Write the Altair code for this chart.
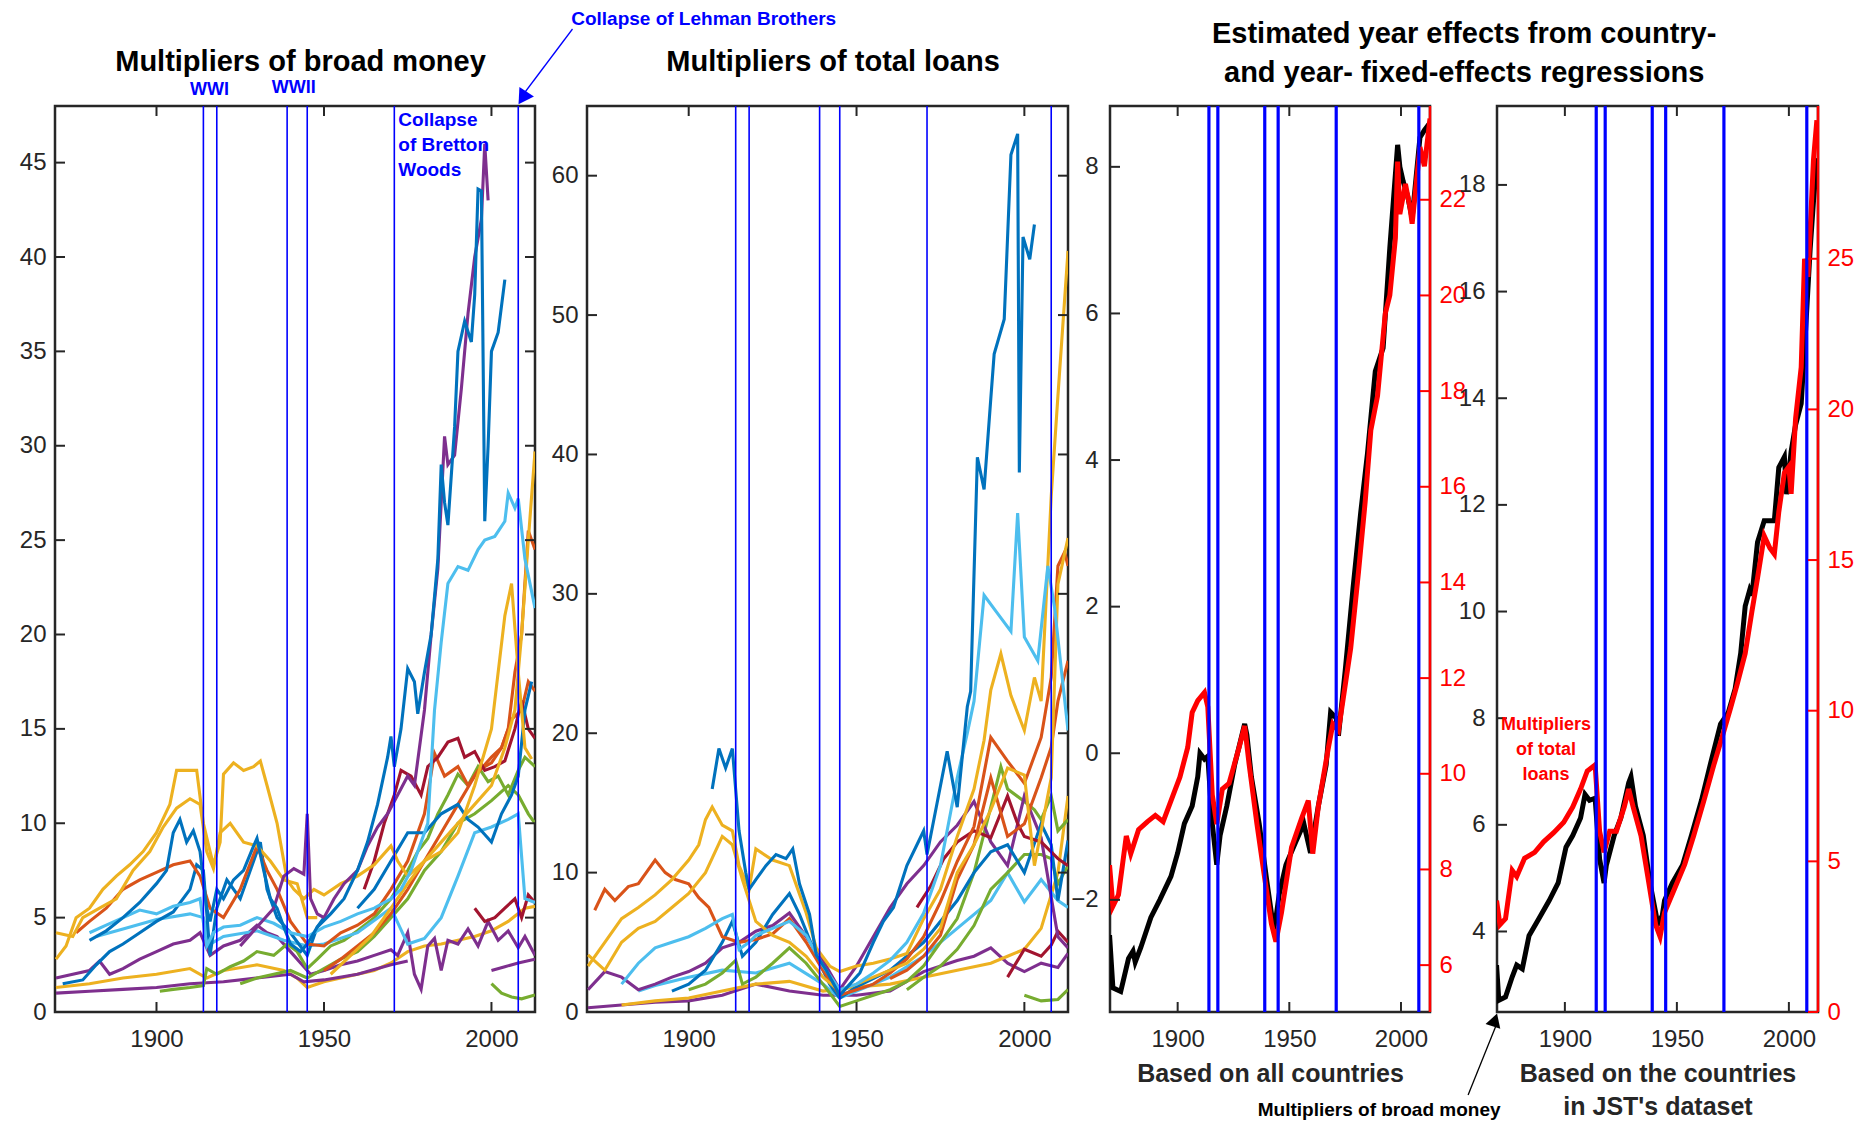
import altair as alt
import pandas as pd

# ---------------------------------------------------------------- data
event_years = [1914, 1918, 1939, 1945, 1971, 2008]
year_ticks = [1900, 1950, 2000]

# MATLAB default colour order
c_blue, c_orange, c_yellow, c_purple = "#0072BD", "#D95319", "#EDB120", "#7E2F8E"
c_green, c_cyan, c_darkred = "#77AC30", "#4DBEEE", "#A2142F"

# Multipliers of broad money, one list of (year, value) per country
bm_blue_a = [(1880, 3.8), (1885, 4.3), (1890, 5.0), (1895, 5.8), (1900, 6.8), (1903, 7.5), (1905, 9.5), (1907, 10.2),
             (1909, 9.0), (1911, 9.6), (1913, 8.5), (1915, 5.5), (1916, 4.8), (1918, 6.5), (1920, 6.0), (1923, 7.0),
             (1926, 7.5), (1929, 8.8), (1930, 9.2), (1932, 7.5), (1934, 6.0), (1936, 5.5), (1938, 4.5), (1940, 3.6),
             (1943, 3.2), (1945, 3.6), (1948, 4.5), (1952, 5.2), (1956, 6.0), (1960, 7.5), (1963, 9.0), (1966, 11.0),
             (1969, 13.5), (1970, 14.6), (1971, 13.0), (1973, 15.0), (1975, 18.2), (1977, 17.5), (1978, 15.8),
             (1980, 18.0), (1982, 20.0), (1984, 24.0), (1985, 29.0), (1986, 27.0), (1987, 25.8), (1989, 31.0),
             (1990, 35.0), (1992, 36.6), (1994, 35.5), (1995, 38.0), (1996, 43.6), (1997, 43.5), (1998, 26.0),
             (1999, 30.0), (2000, 35.0), (2002, 36.0), (2004, 38.8)]
bm_purple_a = [(1925, 3.5), (1930, 4.5), (1935, 5.5), (1938, 7.2), (1941, 7.6), (1944, 7.3), (1945, 10.5), (1946, 6.0),
               (1948, 5.2), (1950, 5.0), (1953, 6.0), (1956, 6.8), (1960, 7.5), (1963, 8.8), (1966, 9.8), (1969, 10.5),
               (1972, 11.5), (1975, 12.5), (1977, 12.0), (1980, 16.0), (1982, 20.0), (1984, 23.5), (1986, 30.5),
               (1987, 29.0), (1989, 29.5), (1991, 33.0), (1993, 37.0), (1995, 40.0), (1997, 42.0), (1998, 46.0),
               (1999, 43.0)]
bm_cyan_a = [(1880, 4.2), (1885, 4.6), (1890, 5.0), (1895, 5.4), (1900, 5.2), (1905, 5.6), (1910, 5.8), (1913, 6.0),
             (1915, 3.5), (1917, 4.2), (1920, 4.5), (1925, 4.6), (1930, 5.0), (1935, 4.7), (1940, 4.2), (1945, 4.0),
             (1950, 4.5), (1955, 4.8), (1960, 5.2), (1965, 5.5), (1970, 6.0), (1973, 6.5), (1976, 7.5), (1979, 9.0),
             (1981, 10.0), (1983, 16.0), (1985, 19.6), (1987, 22.7), (1990, 23.6), (1993, 23.4), (1996, 24.5),
             (1998, 25.0), (2001, 25.2), (2004, 26.0), (2005, 27.5), (2007, 26.7), (2008, 27.2), (2010, 24.0),
             (2013, 21.4)]
bm_cyan_b = [(1882, 4.0), (1890, 4.4), (1900, 4.9), (1910, 5.2), (1914, 5.0), (1916, 3.6), (1920, 4.0), (1930, 4.3),
             (1938, 3.8), (1945, 3.5), (1950, 3.6), (1960, 4.2), (1970, 5.5), (1975, 3.6), (1980, 3.9), (1985, 5.0),
             (1990, 7.2), (1995, 9.5), (2000, 9.8), (2005, 10.2), (2008, 10.5), (2010, 6.0), (2013, 5.8)]
bm_yellow_a = [(1870, 2.8), (1873, 3.5), (1876, 5.0), (1880, 5.5), (1884, 6.5), (1888, 7.2), (1892, 7.8), (1896, 8.5),
               (1900, 9.5), (1904, 11.0), (1906, 12.8), (1912, 12.8), (1914, 10.0), (1916, 8.5), (1917, 7.8),
               (1919, 9.0), (1920, 12.6), (1923, 13.2), (1926, 12.8), (1929, 13.0), (1931, 13.3), (1933, 12.0),
               (1936, 10.0), (1939, 7.0), (1941, 6.5), (1944, 6.0), (1947, 6.5), (1950, 6.2), (1955, 6.8), (1960, 7.2),
               (1965, 7.8), (1970, 8.8), (1972, 8.0), (1975, 7.2), (1980, 8.0), (1985, 8.5), (1990, 9.5), (1995, 12.0),
               (2000, 15.0), (2004, 21.0), (2006, 22.7), (2008, 18.0), (2010, 14.0), (2012, 13.4)]
bm_yellow_b = [(1870, 4.2), (1875, 4.0), (1878, 5.0), (1883, 5.5), (1888, 6.0), (1893, 7.5), (1898, 8.5), (1902, 9.8),
               (1906, 10.8), (1910, 11.3), (1913, 11.0), (1915, 8.5), (1917, 7.6), (1919, 9.5), (1922, 10.0),
               (1926, 9.0), (1930, 8.8), (1934, 8.0), (1938, 7.0), (1942, 6.8), (1945, 5.0), (1948, 5.0)]
bm_yellow_c = [(1870, 1.3), (1880, 1.5), (1890, 1.8), (1900, 2.0), (1910, 2.3), (1915, 1.8), (1920, 2.2), (1930, 2.5),
               (1938, 2.2), (1942, 1.8), (1945, 1.3), (1950, 1.6), (1955, 1.8), (1960, 2.0), (1965, 2.2), (1970, 2.6),
               (1975, 3.2), (1980, 3.5), (1985, 3.6), (1990, 3.8), (1995, 4.0), (2000, 4.3), (2005, 4.8), (2010, 5.5),
               (2013, 5.6)]
bm_yellow_d = [(1952, 2.0), (1958, 3.0), (1964, 4.0), (1970, 5.5), (1975, 6.8), (1980, 8.0), (1985, 9.0), (1990, 10.0),
               (1995, 11.0), (2000, 12.0), (2004, 14.0), (2007, 16.0), (2009, 20.0), (2011, 25.0), (2013, 29.7)]
bm_orange_a = [(1876, 4.2), (1880, 4.8), (1885, 5.5), (1890, 6.5), (1895, 7.0), (1900, 7.4), (1905, 7.8), (1910, 8.0),
               (1913, 7.2), (1916, 5.5), (1920, 5.0), (1925, 6.5), (1930, 8.8), (1933, 7.5), (1936, 6.5), (1940, 4.8),
               (1945, 3.6), (1950, 3.5), (1955, 4.2), (1960, 4.6), (1965, 5.2), (1970, 6.5), (1975, 8.0), (1980, 10.5),
               (1983, 13.7), (1986, 12.5), (1990, 13.0), (1993, 12.0), (1996, 12.8), (2000, 13.2), (2003, 14.0),
               (2006, 15.5), (2009, 16.0), (2011, 17.5), (2013, 17.0)]
bm_orange_b = [(1950, 2.2), (1955, 2.8), (1960, 3.5), (1965, 4.2), (1970, 5.2), (1975, 6.5), (1980, 8.0), (1985, 9.5),
               (1990, 11.0), (1995, 12.5), (2000, 13.5), (2003, 14.0), (2005, 15.0), (2007, 18.0), (2009, 20.0),
               (2011, 25.5), (2013, 24.5)]
bm_darkred_a = [(1962, 6.5), (1965, 8.0), (1968, 10.0), (1971, 11.5), (1973, 12.8), (1976, 12.5), (1979, 11.5),
                (1981, 13.0), (1984, 13.5), (1987, 14.3), (1990, 14.5), (1992, 13.5), (1995, 13.8), (1998, 12.8),
                (2001, 13.0), (2004, 13.3), (2007, 15.0), (2009, 16.5), (2011, 15.0), (2013, 14.5)]
bm_darkred_b = [(1995, 5.5), (1998, 4.8), (2001, 5.0), (2004, 5.5), (2007, 6.0), (2009, 5.0), (2011, 6.2), (2013, 5.8)]
bm_green_a = [(1901, 1.1), (1905, 1.2), (1910, 1.3), (1914, 1.4), (1915, 2.3), (1918, 2.0), (1922, 2.4), (1926, 2.7),
              (1930, 3.2), (1935, 3.0), (1939, 3.6), (1942, 3.2), (1945, 2.3), (1948, 2.8), (1952, 3.5), (1956, 3.8),
              (1960, 4.3), (1965, 5.0), (1970, 6.0), (1972, 6.6), (1975, 7.5), (1978, 8.5), (1981, 9.2), (1984, 10.5),
              (1987, 11.5), (1990, 12.6), (1993, 12.0), (1996, 13.0), (1999, 12.2), (2002, 12.5), (2005, 11.5),
              (2008, 12.8), (2010, 13.5), (2013, 13.0)]
bm_green_b = [(1925, 1.5), (1930, 1.8), (1935, 2.0), (1940, 2.2), (1945, 1.8), (1950, 2.3), (1955, 2.8), (1960, 3.2),
              (1965, 4.0), (1970, 5.0), (1975, 6.0), (1980, 7.5), (1985, 8.5), (1990, 10.0), (1995, 10.5), (2000, 11.2),
              (2005, 12.0), (2008, 11.5), (2011, 10.5), (2013, 10.0)]
bm_green_c = [(2000, 1.5), (2003, 1.0), (2006, 0.8), (2009, 0.7), (2013, 0.9)]
bm_purple_b = [(1870, 1.8), (1875, 2.0), (1880, 2.2), (1883, 2.7), (1886, 2.0), (1890, 2.3), (1895, 2.8), (1900, 3.2),
               (1905, 3.6), (1910, 3.8), (1913, 4.2), (1916, 3.0), (1920, 3.5), (1925, 3.8), (1930, 4.6), (1933, 4.2),
               (1936, 4.0), (1940, 3.2), (1943, 2.6), (1946, 2.0), (1950, 2.2), (1955, 2.5), (1960, 2.7), (1965, 3.0),
               (1970, 3.3), (1972, 3.0), (1975, 4.2), (1977, 2.0), (1979, 1.2), (1981, 3.5), (1983, 3.9), (1985, 2.2),
               (1987, 3.8), (1990, 3.6), (1993, 4.4), (1996, 3.5), (1999, 4.8), (2002, 3.8), (2005, 4.3), (2008, 3.4),
               (2010, 4.0), (2013, 3.0)]
bm_purple_c = [(1870, 1.0), (1880, 1.1), (1890, 1.2), (1900, 1.3), (1910, 1.5), (1920, 1.6), (1930, 1.8), (1940, 2.0),
               (1944, 1.6), (1950, 1.7), (1960, 2.0), (1970, 2.5), (1975, 2.7)]
bm_purple_d = [(2000, 2.2), (2004, 2.4), (2008, 2.6), (2013, 2.8)]
bm_blue_b = [(1960, 5.5), (1965, 6.5), (1970, 8.0), (1975, 9.5), (1980, 9.5), (1985, 10.5), (1990, 11.0), (1993, 10.2),
             (1996, 9.8), (2000, 9.0), (2003, 10.5), (2006, 11.5), (2008, 12.5), (2010, 16.0), (2012, 17.5)]
bm_blue_c = [(1872, 1.5), (1878, 1.7), (1882, 2.5), (1886, 3.2), (1890, 3.6), (1895, 4.2), (1900, 4.8), (1905, 5.3),
             (1910, 6.5), (1912, 7.8), (1914, 7.5), (1916, 3.0), (1918, 5.5), (1921, 7.0), (1925, 6.0), (1929, 8.0),
             (1931, 9.0), (1933, 6.5), (1936, 5.0), (1940, 4.2), (1945, 3.0), (1948, 4.5), (1950, 5.0)]

broad_money = [
    (c_yellow, bm_yellow_c), (c_purple, bm_purple_c), (c_green, bm_green_c), (c_purple, bm_purple_d),
    (c_purple, bm_purple_b), (c_green, bm_green_b), (c_green, bm_green_a), (c_darkred, bm_darkred_b),
    (c_cyan, bm_cyan_b), (c_blue, bm_blue_c), (c_orange, bm_orange_a), (c_orange, bm_orange_b),
    (c_darkred, bm_darkred_a), (c_blue, bm_blue_b), (c_yellow, bm_yellow_b), (c_yellow, bm_yellow_d),
    (c_yellow, bm_yellow_a), (c_cyan, bm_cyan_a), (c_purple, bm_purple_a), (c_blue, bm_blue_a),
]

# Multipliers of total loans
tl_blue_a = [(1907, 16.0), (1909, 18.9), (1911, 17.5), (1913, 18.9), (1915, 13.0), (1917, 10.0), (1918, 8.8),
             (1920, 9.5), (1923, 10.5), (1926, 11.3), (1929, 11.0), (1931, 11.7), (1933, 9.2), (1936, 7.0), (1938, 4.1),
             (1941, 3.0), (1945, 1.2), (1948, 2.0), (1951, 2.8), (1955, 5.0), (1958, 6.5), (1961, 7.5), (1965, 10.5),
             (1968, 12.0), (1970, 13.0), (1971, 11.3), (1974, 15.0), (1977, 18.7), (1980, 14.7), (1983, 21.9),
             (1984, 23.0), (1986, 39.8), (1988, 37.5), (1990, 44.0), (1991, 47.2), (1994, 49.7), (1996, 61.5),
             (1998, 63.0), (1998.5, 38.7), (1999.6, 55.6), (2001.6, 54.0), (2003, 56.5)]
tl_cyan_a = [(1880, 2.0), (1885, 3.5), (1890, 4.6), (1895, 5.0), (1900, 5.4), (1905, 6.0), (1910, 6.7), (1913, 7.0),
             (1915, 4.5), (1918, 5.0), (1920, 5.5), (1925, 6.0), (1930, 6.5), (1935, 5.5), (1940, 3.3), (1945, 1.6),
             (1950, 2.0), (1955, 2.8), (1960, 3.7), (1965, 5.0), (1970, 7.1), (1975, 10.5), (1980, 16.8), (1983, 20.0),
             (1985, 22.3), (1988, 29.9), (1992, 28.6), (1996, 27.3), (1998, 35.8), (2000, 26.9), (2004, 25.2),
             (2007, 32.0), (2009, 29.0), (2013, 20.2)]
tl_cyan_b = [(1885, 1.5), (1890, 1.9), (1900, 2.5), (1910, 3.0), (1920, 2.8), (1930, 3.5), (1940, 2.0), (1945, 1.0),
             (1950, 1.5), (1960, 2.5), (1970, 4.0), (1980, 6.0), (1990, 8.0), (1995, 10.0), (2000, 7.9), (2005, 9.5),
             (2010, 8.0), (2013, 7.5)]
tl_yellow_a = [(1870, 3.3), (1875, 5.0), (1880, 6.7), (1885, 7.5), (1890, 8.4), (1895, 9.5), (1900, 10.9), (1903, 12.0),
               (1905, 13.8), (1907, 14.7), (1910, 13.4), (1913, 13.0), (1915, 10.5), (1918, 8.8), (1920, 11.7),
               (1925, 10.9), (1930, 10.5), (1935, 7.1), (1938, 4.6), (1942, 3.3), (1945, 2.9), (1950, 3.3), (1955, 3.5),
               (1960, 3.8), (1965, 4.2), (1970, 6.7), (1975, 8.8), (1980, 12.6), (1985, 16.0), (1988, 19.5),
               (1990, 23.1), (1993, 25.7), (1996, 22.7), (2000, 20.2), (2003, 24.0), (2005, 22.3), (2008, 37.0),
               (2010, 44.2), (2013, 54.6)]
tl_yellow_b = [(1870, 4.1), (1875, 3.0), (1880, 5.0), (1885, 6.0), (1890, 6.5), (1895, 7.5), (1900, 8.5), (1905, 10.0),
               (1910, 12.6), (1913, 12.0), (1916, 9.5), (1918, 8.0), (1920, 6.5), (1925, 5.5), (1930, 5.0), (1935, 4.0),
               (1940, 2.5), (1945, 1.5), (1950, 2.0), (1955, 2.5), (1960, 3.0), (1965, 3.5), (1970, 4.5), (1975, 6.0),
               (1980, 10.0), (1985, 12.0), (1990, 14.5), (1995, 17.5), (2000, 17.0), (2003, 10.5), (2005, 13.0),
               (2008, 16.8), (2010, 30.7), (2013, 34.0)]
tl_yellow_c = [(1880, 0.5), (1890, 0.8), (1900, 1.0), (1910, 1.5), (1920, 2.0), (1930, 2.2), (1940, 1.5), (1950, 1.8),
               (1960, 2.0), (1970, 2.5), (1980, 3.0), (1990, 3.5), (1995, 4.0), (2000, 4.5), (2005, 6.0), (2010, 10.0),
               (2013, 15.5)]
tl_orange_a = [(1872, 7.3), (1875, 8.8), (1878, 8.0), (1882, 9.0), (1885, 9.2), (1890, 10.9), (1893, 10.0), (1896, 9.5),
               (1900, 9.2), (1903, 8.2), (1906, 7.5), (1910, 5.4), (1915, 5.0), (1920, 5.2), (1925, 5.6), (1930, 6.7),
               (1935, 5.0), (1940, 3.0), (1945, 1.2), (1950, 1.6), (1955, 2.0), (1960, 2.8), (1965, 3.8), (1970, 5.4),
               (1975, 7.9), (1980, 10.8), (1985, 13.3), (1990, 19.7), (1995, 18.0), (2000, 16.4), (2005, 19.7),
               (2008, 24.0), (2010, 32.0), (2012, 33.0), (2013, 32.0)]
tl_orange_b = [(1960, 2.4), (1965, 3.0), (1970, 4.0), (1975, 5.5), (1980, 9.5), (1985, 12.0), (1990, 16.8), (1995, 12.6),
               (2000, 13.5), (2005, 16.8), (2008, 19.0), (2010, 22.3), (2013, 25.2)]
tl_darkred_a = [(1968, 7.5), (1972, 9.0), (1976, 11.0), (1980, 12.2), (1985, 13.0), (1990, 12.5), (1995, 15.5),
                (1998, 13.5), (2000, 12.6), (2005, 12.2), (2010, 11.0), (2013, 10.5)]
tl_darkred_b = [(1995, 2.5), (2000, 4.5), (2005, 4.0), (2008, 4.8), (2010, 5.8), (2013, 5.0)]
tl_green_a = [(1900, 1.6), (1905, 2.0), (1910, 2.8), (1914, 3.7), (1916, 2.0), (1920, 2.5), (1925, 3.5), (1930, 4.6),
              (1935, 3.5), (1940, 2.0), (1945, 0.4), (1950, 0.8), (1955, 1.2), (1960, 1.6), (1965, 2.2), (1970, 3.3),
              (1975, 5.0), (1980, 6.7), (1985, 10.0), (1990, 14.7), (1993, 17.6), (1995, 16.0), (2000, 15.1),
              (2003, 14.5), (2005, 13.8), (2008, 15.5), (2010, 13.0), (2013, 13.8)]
tl_green_b = [(1965, 1.6), (1970, 2.5), (1975, 3.3), (1980, 4.5), (1985, 6.2), (1990, 8.8), (1995, 10.0), (2000, 11.3),
              (2005, 11.3), (2008, 11.0), (2010, 9.2), (2013, 10.5)]
tl_green_c = [(2000, 1.2), (2005, 0.8), (2010, 0.9), (2013, 1.6)]
tl_purple_a = [(1870, 1.6), (1875, 2.9), (1880, 2.5), (1885, 1.6), (1890, 2.0), (1895, 2.5), (1900, 2.9), (1905, 3.5),
               (1910, 4.6), (1915, 5.0), (1920, 5.8), (1925, 6.2), (1930, 7.1), (1935, 5.4), (1940, 3.7), (1945, 1.6),
               (1950, 3.3), (1955, 5.4), (1960, 7.5), (1965, 9.2), (1970, 10.5), (1975, 12.2), (1980, 13.4),
               (1985, 15.1), (1990, 12.2), (1995, 10.5), (2000, 15.5), (2005, 12.5), (2010, 5.4), (2013, 4.6)]
tl_purple_b = [(1870, 0.3), (1880, 0.5), (1890, 0.7), (1900, 0.8), (1910, 1.2), (1920, 2.0), (1930, 1.5), (1940, 1.2),
               (1950, 1.2), (1960, 1.5), (1970, 2.9), (1980, 3.7), (1985, 4.0), (1990, 4.6), (1995, 3.5), (2000, 2.9),
               (2005, 3.5), (2010, 3.2), (2013, 4.2)]
tl_blue_b = [(1895, 1.5), (1900, 2.0), (1905, 3.0), (1910, 5.0), (1913, 6.5), (1916, 4.0), (1920, 5.0), (1925, 7.0),
             (1930, 8.5), (1933, 7.0), (1938, 4.0), (1942, 2.0), (1945, 1.0), (1950, 1.8), (1960, 3.0), (1970, 5.0),
             (1980, 8.0), (1985, 10.0), (1990, 11.5), (1995, 12.0), (2000, 10.0), (2005, 13.5), (2008, 12.0),
             (2010, 8.0), (2013, 12.3)]

total_loans = [
    (c_purple, tl_purple_b), (c_yellow, tl_yellow_c), (c_green, tl_green_c), (c_darkred, tl_darkred_b),
    (c_cyan, tl_cyan_b), (c_green, tl_green_b), (c_green, tl_green_a), (c_purple, tl_purple_a),
    (c_blue, tl_blue_b), (c_darkred, tl_darkred_a), (c_orange, tl_orange_b), (c_orange, tl_orange_a),
    (c_yellow, tl_yellow_b), (c_yellow, tl_yellow_a), (c_cyan, tl_cyan_a), (c_blue, tl_blue_a),
]

# Estimated year effects, all countries: broad money (left axis) and total loans (right axis)
ye_all_money = [(1869.5, -2.48), (1871, -3.2), (1874.5, -3.25), (1878, -2.8), (1880, -2.7), (1881, -2.85),
                (1883.5, -2.65), (1888, -2.24), (1892, -2.0), (1897, -1.68), (1900, -1.36), (1903, -0.96),
                (1906.5, -0.72), (1909, -0.32), (1910, 0.0), (1912, -0.08), (1913.5, -0.04), (1915.5, -0.96),
                (1917.5, -1.52), (1919, -1.12), (1922, -0.72), (1925.5, -0.16), (1930, 0.4), (1931, 0.25),
                (1933, -0.32), (1936.5, -0.96), (1940, -1.76), (1943, -2.4), (1944, -2.25), (1945.5, -1.92),
                (1948.5, -1.52), (1953, -1.2), (1956.5, -0.96), (1959.5, -1.36), (1963, -0.72), (1966.5, -0.16),
                (1968.5, 0.56), (1971, 0.48), (1972, 0.24), (1975, 1.12), (1978.5, 2.24), (1982, 3.29),
                (1985, 4.09), (1988.5, 5.21), (1992, 5.53), (1995, 6.89), (1998.5, 8.3), (1999.5, 8.0),
                (2001, 7.8), (2003, 7.6), (2005, 7.3), (2008.5, 8.4), (2010.5, 8.5), (2013, 8.6)]
ye_all_loans = [(1869.5, 8.09), (1871, 7.23), (1873.5, 7.47), (1877, 8.7), (1879, 8.33), (1882.5, 8.83), (1886.5, 9.0),
                (1890, 9.13), (1893.5, 9.0), (1898, 9.56), (1901, 9.93), (1904.5, 10.55), (1906.5, 11.28),
                (1909, 11.53), (1912, 11.7), (1913.5, 11.4), (1915.5, 9.56), (1917.5, 8.95), (1920, 9.68),
                (1923, 9.8), (1927.5, 10.55), (1930, 11.0), (1932, 10.2), (1935.5, 8.95), (1938.5, 7.97),
                (1942, 6.86), (1944, 6.49), (1946.5, 7.1), (1951, 8.46), (1955.5, 9.07), (1958.5, 9.44),
                (1960.5, 8.33), (1963, 9.32), (1967.5, 10.55), (1969.5, 11.04), (1972, 10.9), (1974, 11.53),
                (1977.5, 12.63), (1981, 14.23), (1984, 15.7), (1986.5, 17.18), (1989.5, 17.9), (1993, 19.63),
                (1995, 20.0), (1997.5, 21.2), (1998.5, 22.8), (1999.5, 21.7), (2002, 22.33), (2004, 21.85),
                (2005, 21.5), (2008.5, 23.1), (2010.5, 22.7), (2013, 23.7)]

# Estimated year effects, countries in JST's dataset
ye_jst_money = [(1869.5, 3.37), (1870.5, 2.71), (1873.5, 2.77), (1876.5, 3.15), (1878.5, 3.37), (1881, 3.3),
                (1884, 3.92), (1888.5, 4.25), (1893, 4.58), (1897, 4.91), (1900.5, 5.58), (1903.5, 5.8), (1907, 6.13),
                (1909, 6.57), (1911, 6.46), (1913.5, 6.5), (1915.5, 5.36), (1917.5, 4.91), (1918.5, 5.24), (1922, 5.8),
                (1925, 6.13), (1928.5, 6.79), (1929.5, 6.9), (1931.5, 6.35), (1935, 5.8), (1938, 4.91),
                (1941.5, 4.14), (1943.5, 4.3), (1944.5, 4.58), (1948, 4.91), (1952.5, 5.24), (1956.5, 5.8),
                (1961, 6.46), (1965.5, 7.23), (1969.5, 7.89), (1973, 8.11), (1976, 8.55), (1978.5, 9.22),
                (1980.5, 10.1), (1982.5, 10.4), (1983.5, 10.3), (1986, 11.3), (1989, 11.7), (1991.5, 11.7),
                (1993.5, 11.7), (1995.5, 12.7), (1998, 12.9), (1999, 12.2), (2001, 13.0), (2003, 13.5), (2005.5, 13.9),
                (2007.5, 15.3), (2009.5, 16.8), (2011, 17.7), (2012.5, 18.5)]
ye_jst_loans = [(1869.5, 3.7), (1871, 2.9), (1873.5, 3.1), (1876.5, 4.7), (1878.5, 4.5), (1882, 5.1), (1886.5, 5.3),
                (1890.5, 5.65), (1895, 5.95), (1899.5, 6.3), (1903.5, 6.8), (1907, 7.4), (1910, 8.0), (1913.5, 8.2),
                (1915.5, 6.0), (1917.5, 5.3), (1920, 6.0), (1923, 6.0), (1926.5, 6.8), (1928.5, 7.4), (1930.5, 6.8),
                (1934, 5.85), (1937, 4.5), (1940.5, 2.9), (1942.5, 2.5), (1944.5, 3.3), (1949, 4.1), (1953.5, 4.9),
                (1957.5, 5.85), (1962, 7.0), (1966.5, 8.2), (1970.5, 9.2), (1974, 10.1), (1977, 10.9), (1980.5, 11.9),
                (1983.5, 13.3), (1986, 14.4), (1989, 15.8), (1991.5, 15.4), (1993.5, 15.2), (1995.5, 16.6),
                (1998, 17.9), (2000, 18.1), (2001, 17.2), (2003, 19.7), (2005.5, 21.4), (2007, 25.0), (2008.5, 24.4),
                (2011, 28.3), (2012.5, 29.6)]

# ---------------------------------------------------------------- layout / style
H = 906
W1, W2, W3, W4 = 480, 481, 320, 321
X_DOMAIN = [1869.7, 2013]
FRAME = "#262626"
EVENT_BLUE = "#0000FF"
RED = "#FF0000"
FONT = "Liberation Sans"
TICK = 10

xscale = alt.Scale(domain=X_DOMAIN, nice=False, zero=False)


def series_frame(groups):
    rows = []
    for i, (colour, pts) in enumerate(groups):
        for yr, v in pts:
            rows.append({"sid": f"s{i:02d}", "colour": colour, "year": yr, "value": v})
    return pd.DataFrame(rows)


def points_frame(pts):
    return pd.DataFrame(pts, columns=["year", "value"])


def x_enc(title=None):
    kw = dict(values=year_ticks, format="d", ticks=False, domain=False, grid=False,
              labelFont=FONT, labelFontSize=24, labelColor=FRAME, labelPadding=15)
    if title is not None:
        kw.update(titleFont=FONT, titleFontSize=25, titleFontWeight="bold", titleColor=FRAME,
                  titlePadding=10, titleLineHeight=33)
    return alt.X("year:Q", scale=xscale, axis=alt.Axis(**kw), title=title)


def frame_ticks(xe, width, left_y, right_y, right_colour=FRAME):
    """MATLAB-style inward tick marks on all four sides."""
    xt = pd.DataFrame({"year": year_ticks})
    lt = pd.DataFrame({"value": left_y[1]})
    rt = pd.DataFrame({"value": right_y[1]})
    return [
        alt.Chart(xt).mark_rule(color=FRAME, strokeWidth=2).encode(x=xe, y=alt.value(0), y2=alt.value(TICK)),
        alt.Chart(xt).mark_rule(color=FRAME, strokeWidth=2).encode(x=xe, y=alt.value(H - TICK), y2=alt.value(H)),
        alt.Chart(lt).mark_rule(color=FRAME, strokeWidth=2).encode(
            x=alt.value(0), x2=alt.value(TICK), y=left_y[0]),
        alt.Chart(rt).mark_rule(color=right_colour, strokeWidth=2).encode(
            x=alt.value(width - TICK), x2=alt.value(width), y=right_y[0]),
    ]


def event_rules(xe, stroke_width):
    return alt.Chart(pd.DataFrame({"year": event_years})).mark_rule(
        color=EVENT_BLUE, strokeWidth=stroke_width).encode(x=xe)


def note(xe, year, y_px, text, **style):
    return alt.Chart(pd.DataFrame({"year": [year], "label": [text]})).mark_text(**style).encode(
        x=xe, y=alt.value(y_px), text="label:N")


def arrow(xe, xtitle, year, year2, y_px, y2_px, head_year, head_y, shape, angle, colour, size):
    x2 = alt.X2("year2:Q", title=xtitle) if xtitle is not None else alt.X2("year2:Q")
    line = alt.Chart(pd.DataFrame({"year": [year], "year2": [year2]})).mark_rule(
        color=colour, strokeWidth=1.3).encode(x=xe, x2=x2, y=alt.value(y_px), y2=alt.value(y2_px))
    head = alt.Chart(pd.DataFrame({"year": [head_year]})).mark_point(
        shape=shape, angle=angle, filled=True, size=size, color=colour, opacity=1).encode(
        x=xe, y=alt.value(head_y))
    return [line, head]


def multiplier_panel(groups, width, ydom, yvals, title, extra_fn=None):
    xe = x_enc()
    ye = alt.Y("value:Q", scale=alt.Scale(domain=ydom, nice=False, zero=False), title=None,
               axis=alt.Axis(values=yvals, ticks=False, domain=False, grid=False, labelFont=FONT,
                             labelFontSize=24, labelColor=FRAME, labelPadding=9))
    lines = alt.Chart(series_frame(groups)).mark_line(strokeWidth=3.1, clip=True).encode(
        x=xe, y=ye,
        color=alt.Color("colour:N", scale=None),
        detail="sid:N",
    )
    layers = [lines, event_rules(xe, 1.6)] + frame_ticks(xe, width, (ye, yvals), (ye, yvals))
    layers.append(note(xe, 1943.0, -44, title, fontSize=29, fontWeight="bold", color="#000000"))
    if extra_fn is not None:
        layers += extra_fn(xe, None)
    return alt.layer(*layers).properties(
        width=width, height=H, view=alt.ViewBackground(stroke=FRAME, strokeWidth=2.5))


def year_effect_panel(money, loans, width, ldom, lvals, rdom, rvals, xtitle, lpad, extra_fn=None):
    xe = x_enc(xtitle)
    ls = alt.Scale(domain=ldom, nice=False, zero=False)
    rs = alt.Scale(domain=rdom, nice=False, zero=False)
    black = alt.Chart(points_frame(money)).mark_line(color="#000000", strokeWidth=5, clip=True).encode(
        x=xe,
        y=alt.Y("value:Q", scale=ls, title=None,
                axis=alt.Axis(orient="left", values=lvals, ticks=False, domain=False, grid=False,
                              labelFont=FONT, labelFontSize=24, labelColor=FRAME, labelPadding=lpad)),
    )
    red = alt.Chart(points_frame(loans)).mark_line(color=RED, strokeWidth=5, clip=True).encode(
        x=xe,
        y=alt.Y("value:Q", scale=rs, title=None,
                axis=alt.Axis(orient="right", values=rvals, ticks=False, domain=False, grid=False,
                              labelFont=FONT, labelFontSize=24, labelColor=RED, labelPadding=9)),
    )
    red_edge = alt.Chart(pd.DataFrame({"a": [0]})).mark_rule(color=RED, strokeWidth=2.5).encode(
        x=alt.value(width), y=alt.value(0), y2=alt.value(H))
    tick_l = alt.Y("value:Q", scale=ls, axis=None)
    tick_r = alt.Y("value:Q", scale=rs, axis=None)
    layers = [black, red, event_rules(xe, 3.2), red_edge] + frame_ticks(
        xe, width, (tick_l, lvals), (tick_r, rvals), right_colour=RED)
    if extra_fn is not None:
        layers += extra_fn(xe, xtitle)
    return alt.layer(*layers).resolve_scale(y="independent").properties(
        width=width, height=H, view=alt.ViewBackground(stroke=FRAME, strokeWidth=2.5))


# ---------------------------------------------------------------- annotations
blue_bold = dict(color=EVENT_BLUE, fontWeight="bold")


def p1_notes(xe, xtitle):
    return [
        note(xe, 1915.8, -16, "WWI", fontSize=18, **blue_bold),
        note(xe, 1941.0, -18, "WWII", fontSize=18, **blue_bold),
        note(xe, 1971, 5, "Collapse\nof Bretton\nWoods", fontSize=19, align="left", baseline="top", dx=4,
             lineBreak="\n", lineHeight=25, **blue_bold),
        note(xe, 2023.8, -87, "Collapse of Lehman Brothers", fontSize=19, align="left", **blue_bold),
    ] + arrow(xe, xtitle, 2024.2, 2009.6, -77, -12, 2009.3, -8, "triangle-down", 33, EVENT_BLUE, 300)


def p3_notes(xe, xtitle):
    title_style = dict(fontSize=29, fontWeight="bold", color="#000000")
    return [
        note(xe, 2028.3, -72, "Estimated year effects from country-", **title_style),
        note(xe, 2028.3, -33, "and year-  fixed-effects regressions", **title_style),
    ]


def p4_notes(xe, xtitle):
    return [
        note(xe, 1891.6, 610, "Multipliers\nof total\nloans", fontSize=18, color=RED, fontWeight="bold",
             baseline="top", lineBreak="\n", lineHeight=25),
        note(xe, 1817.1, 1004, "Multipliers of broad money", fontSize=19, color="#000000", fontWeight="bold"),
    ] + arrow(xe, xtitle, 1856.8, 1869.2, 989, 920, 1868.8, 914, "triangle-up", 18, "#000000", 240)


# ---------------------------------------------------------------- panels
p1 = multiplier_panel(broad_money, W1, [0, 48], list(range(0, 50, 5)), "Multipliers of broad money", p1_notes)
p2 = multiplier_panel(total_loans, W2, [0, 65], list(range(0, 70, 10)), "Multipliers of total loans")
p3 = year_effect_panel(
    ye_all_money, ye_all_loans, W3, [-3.53, 8.83], [-2, 0, 2, 4, 6, 8], [5.02, 23.96], list(range(6, 24, 2)),
    "Based on all countries", 12, p3_notes)
p4 = year_effect_panel(
    ye_jst_money, ye_jst_loans, W4, [2.49, 19.48], list(range(4, 20, 2)), [0, 30.07], list(range(0, 30, 5)),
    ["Based on the countries", "in JST's dataset"], 12, p4_notes)


def gap(width):
    return alt.Chart(pd.DataFrame({"a": [0]})).mark_point(opacity=0).properties(width=width, height=H)


chart = alt.hconcat(p1, gap(52), p2, gap(42), p3, gap(67), p4, spacing=0, bounds="flush").properties(
    padding={"left": 10, "top": 0, "right": 2, "bottom": 0}
).configure(font=FONT).configure_view(stroke="transparent")

chart.save("out.html", embed_options={"renderer": "svg", "actions": False})
